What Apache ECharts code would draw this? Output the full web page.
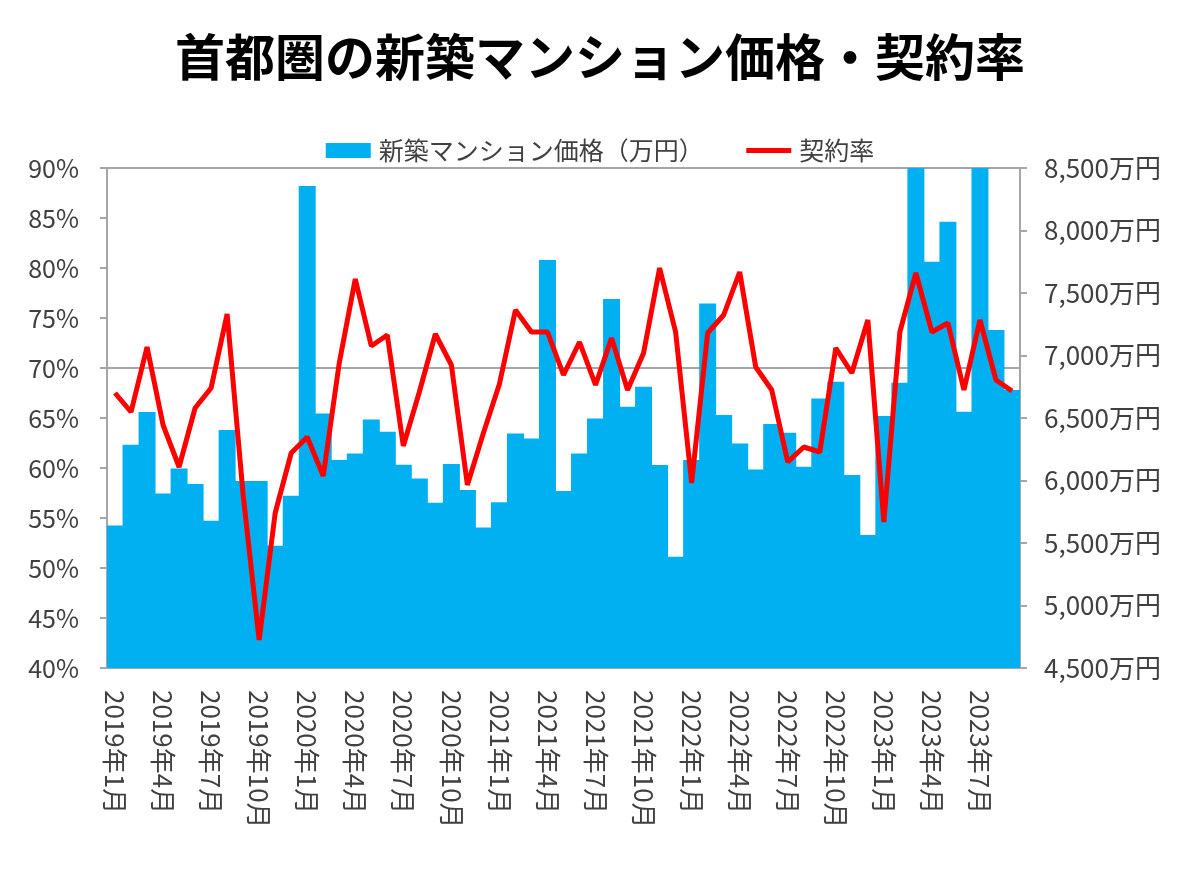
<!DOCTYPE html>
<html>
<head>
<meta charset="utf-8">
<script src="https://cdn.jsdelivr.net/npm/echarts@6/dist/echarts.min.js"></script>
<style>
html,body{margin:0;padding:0;background:#fff;}
#chart{width:1200px;height:871px;}
</style>
</head>
<body>
<div id="chart"></div>
<script>
const categories = [
 '2019年1月','2019年2月','2019年3月','2019年4月','2019年5月','2019年6月','2019年7月','2019年8月','2019年9月','2019年10月','2019年11月','2019年12月',
 '2020年1月','2020年2月','2020年3月','2020年4月','2020年5月','2020年6月','2020年7月','2020年8月','2020年9月','2020年10月','2020年11月','2020年12月',
 '2021年1月','2021年2月','2021年3月','2021年4月','2021年5月','2021年6月','2021年7月','2021年8月','2021年9月','2021年10月','2021年11月','2021年12月',
 '2022年1月','2022年2月','2022年3月','2022年4月','2022年5月','2022年6月','2022年7月','2022年8月','2022年9月','2022年10月','2022年11月','2022年12月',
 '2023年1月','2023年2月','2023年3月','2023年4月','2023年5月','2023年6月','2023年7月','2023年8月','2023年9月'
];
const priceValues = [
 5640,6287,6548,5897,6097,5972,5679,6404,5996,5996,5479,5879,
 8356,6537,6164,6217,6489,6391,6127,6017,5823,6132,5924,5625,
 5827,6377,6337,7764,5916,6217,6497,7452,6591,6751,6124,5391,
 6164,7417,6524,6297,6089,6452,6383,6111,6657,6791,6044,5564,
 6516,6783,14360,7751,8071,6551,9000,7204,6724
];
const contractRate = [
 67.5,65.6,72.1,64.3,60.1,66.0,68.0,75.4,57.3,42.8,55.5,61.5,
 63.1,59.2,70.5,78.9,72.2,73.3,62.2,67.6,73.4,70.3,58.3,63.5,
 68.4,75.8,73.6,73.6,69.3,72.6,68.3,73.0,67.8,71.5,80.0,73.6,
 58.5,73.5,75.3,79.6,70.1,67.8,60.6,62.1,61.6,72.0,69.5,74.8,
 54.6,73.6,79.5,73.6,74.5,67.8,74.8,68.8,67.7
];
const rateTicks = {min:40, max:90, interval:5};
const priceTicks = {min:4500, max:8500, interval:500};
const refLines = [70, 90];

const FONT = '"Noto Sans CJK JP","Noto Sans",sans-serif';
const chart = echarts.init(document.getElementById('chart'), null, {renderer:'canvas'});
chart.setOption({
  animation:false,
  backgroundColor:'#ffffff',
  textStyle:{fontFamily:FONT},
  title:{
    text:'首都圏の新築マンション価格・契約率',
    left:'center', top:27,
    textStyle:{fontFamily:FONT, fontSize:50, fontWeight:'bold', color:'#000'}
  },
  legend:{
    top:133, left:'center', itemGap:40, itemWidth:45, itemHeight:15,
    textStyle:{fontFamily:FONT, fontSize:25, color:'#404040', padding:[0,0,0,3]},
    data:[
      {name:'新築マンション価格（万円）', icon:'rect'},
      {name:'契約率', itemStyle:{opacity:0}, lineStyle:{color:'#ff0000', width:5}}
    ]
  },
  grid:{left:107, right:180, top:168, bottom:203, containLabel:false},
  xAxis:{
    type:'category', data:categories,
    axisLine:{show:true, lineStyle:{color:'#a6a6a6', width:2}},
    axisTick:{show:false},
    axisLabel:{interval:2, rotate:-90, margin:22, fontSize:26, color:'#404040', fontFamily:FONT}
  },
  yAxis:[
    {
      type:'value', position:'left', min:rateTicks.min, max:rateTicks.max, interval:rateTicks.interval,
      axisLine:{show:true, lineStyle:{color:'#a6a6a6', width:2}},
      axisTick:{show:true, length:7, lineStyle:{color:'#a6a6a6', width:2}},
      splitLine:{show:false},
      axisLabel:{formatter:'{value}%', margin:28, fontSize:25, color:'#404040', fontFamily:FONT}
    },
    {
      type:'value', position:'right', min:priceTicks.min, max:priceTicks.max, interval:priceTicks.interval,
      axisLine:{show:true, lineStyle:{color:'#a6a6a6', width:2}},
      axisTick:{show:true, length:7, lineStyle:{color:'#a6a6a6', width:2}},
      splitLine:{show:false},
      axisLabel:{formatter:function(v){return v.toLocaleString('en-US')+'万円';}, margin:24, fontSize:26, color:'#404040', fontFamily:FONT}
    }
  ],
  series:[
    {
      name:'新築マンション価格（万円）', type:'bar', yAxisIndex:1,
      data:priceValues, barWidth:'106%', clip:true,
      itemStyle:{color:'#00b0f0', borderWidth:0}
    },
    {
      name:'契約率', type:'line', yAxisIndex:0,
      data:contractRate, symbol:'none', showSymbol:false,
      lineStyle:{color:'#ff0000', width:5},
      itemStyle:{color:'#ff0000'},
      z:3,
      markLine:{
        silent:true, symbol:['none','none'], label:{show:false},
        lineStyle:{color:'#a6a6a6', width:2, type:'solid'},
        data:refLines.map(v=>({yAxis:v})),
        z:2
      }
    }
  ]
});
</script>
</body>
</html>
